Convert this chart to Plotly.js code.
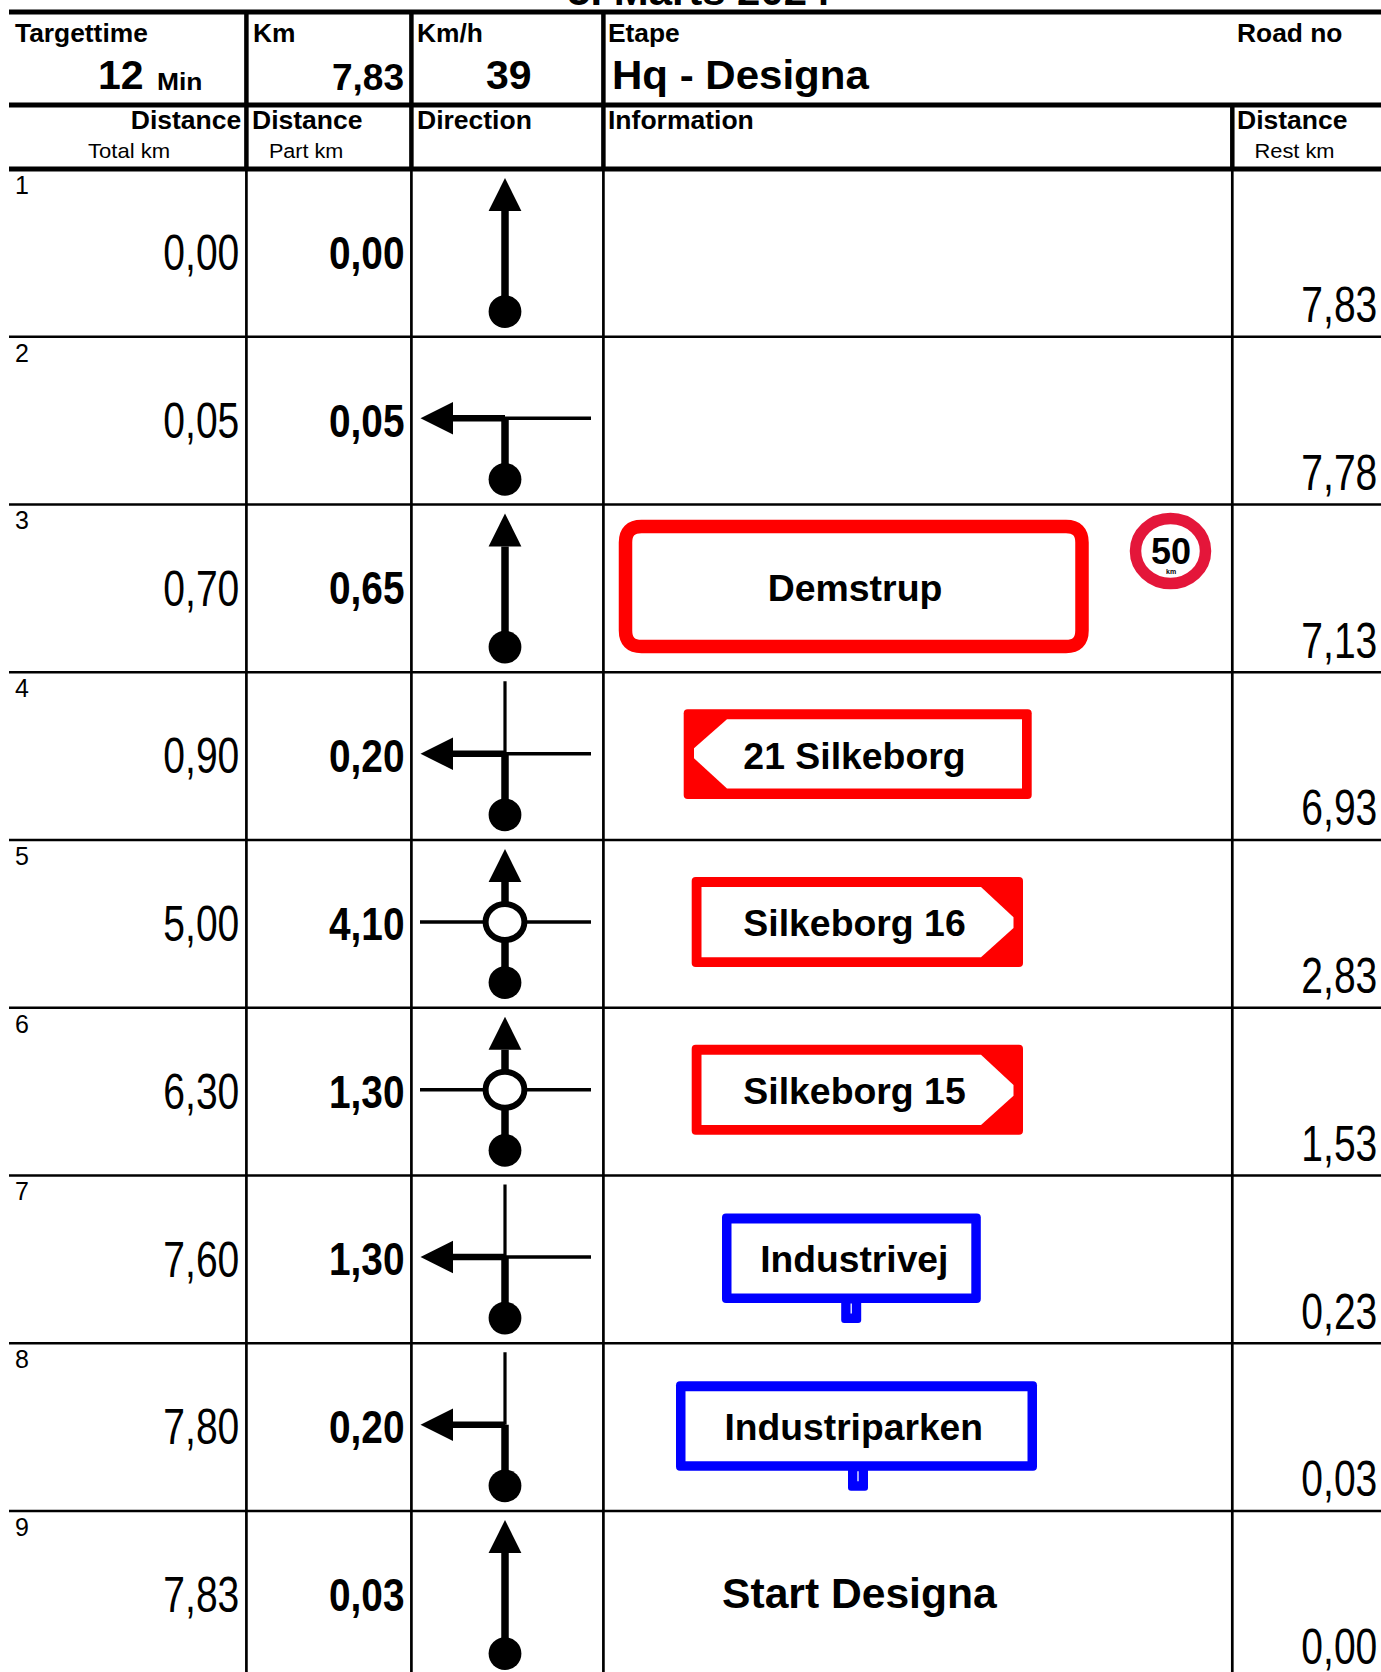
<!DOCTYPE html>
<html><head><meta charset="utf-8">
<script src="https://cdn.plot.ly/plotly-3.0.1.min.js"></script>
<style>html,body{margin:0;padding:0;background:#fff;overflow:hidden}</style>
</head><body><div id="chart" style="width:1381px;height:1672px"></div>
<script>
// ---- data ----
const rowNumbers = ['1','2','3','4','5','6','7','8','9'];
const totalKm = ['0,00','0,05','0,70','0,90','5,00','6,30','7,60','7,80','7,83'];
const partKm  = ['0,00','0,05','0,65','0,20','4,10','1,30','1,30','0,20','0,03'];
const restKm  = ['7,83','7,78','7,13','6,93','2,83','1,53','0,23','0,03','0,00'];
const directions = ['up','leftT','up','leftCross','round','round','leftCross','leftUp','up'];
const infoLabels = ['','','Demstrup','21 Silkeborg','Silkeborg 16','Silkeborg 15','Industrivej','Industriparken','Start Designa'];
const infoKinds  = ['none','none','town','left','right','right','blue','blue','plain'];
const headerTop = ['Targettime','Km','Km/h','Etape','Road no'];
const headerBottom = ['Distance','Distance','Direction','Information','Distance'];
const headerUnits = ['Total km','Part km','Rest km'];
const summary = {time:'12', unit:'Min', km:'7,83', speed:'39', stage:'Hq - Designa'};
const titleText = '5. Marts 2024';

// ---- geometry ----
const W=1381,H=1672, rowH=167.75, firstRow=169;
const rowTop=i=>firstRow+i*rowH;
const cx=505;
const shapes=[], ann=[], fit=[];
const SANS='"Liberation Sans", Arial, sans-serif';
function line(x0,y0,x1,y1,w,c){shapes.push({type:'line',xref:'x',yref:'y',x0,y0,x1,y1,line:{color:c||'#000',width:w}});}
function path(d,fill,lc,lw){shapes.push({type:'path',xref:'x',yref:'y',path:d,fillcolor:fill||'rgba(0,0,0,0)',line:{color:lc||'rgba(0,0,0,0)',width:lw||0}});}
function ell(x,y,rx,ry,fill,lc,lw){shapes.push({type:'circle',xref:'x',yref:'y',x0:x-rx,x1:x+rx,y0:y-ry,y1:y+ry,fillcolor:fill,line:{color:lc||fill,width:lw||0}});}
// base = text baseline; opt.stretch scales the glyph run horizontally, opt.len sets its exact length
function txt(t,x,base,size,opt){opt=opt||{};
  const a=opt.anchor||'left';
  if(opt.stretch||opt.len) fit.push({i:ann.length,stretch:opt.stretch,len:opt.len});
  const bottom=opt.fromBottom;
  ann.push({xref:'x',yref:'y',x,y:bottom?base+size*0.25:base-size*0.93,text:t,showarrow:false,xanchor:a,yanchor:bottom?'bottom':'top',align:a,borderpad:0,
    font:{family:SANS,size,color:opt.color||'#000',weight:opt.bold?700:400}});
}
function rr(x0,y0,x1,y1,r){return `M${x0+r},${y0} L${x1-r},${y0} Q${x1},${y0} ${x1},${y0+r} L${x1},${y1-r} Q${x1},${y1} ${x1-r},${y1} L${x0+r},${y1} Q${x0},${y1} ${x0},${y1-r} L${x0},${y0+r} Q${x0},${y0} ${x0+r},${y0} Z`;}

// grid
line(9,12,W,12,5); line(9,105,W,105,5); line(9,169,W,169,5);
for(let i=1;i<rowNumbers.length;i++) line(9,rowTop(i),W,rowTop(i),2.7);
[246.4,411.4,603.4].forEach(x=>{line(x,12,x,169,4.5); line(x,169,x,H,2.7);});
line(1232.3,105,1232.3,169,4.5); line(1232.3,169,1232.3,H,2.7);

// title (cropped by the page top)
txt(titleText,698.5,4.7,41,{bold:true,anchor:'center',len:263,fromBottom:true});

// header
const hx=[14,252,416,607,1236];
headerTop.forEach((t,i)=>txt(t,hx[i],41.7,25,{bold:true,stretch:1.055}));
txt(summary.time,97,89.5,41,{bold:true});
txt(summary.unit,156,89.5,24,{bold:true,stretch:1.1});
txt(summary.km,405,89.5,36,{bold:true,anchor:'right',stretch:1.03});
txt(summary.speed,509,89.5,41,{bold:true,anchor:'center'});
txt(summary.stage,610.5,89.5,41,{bold:true,stretch:1.025});
txt(headerBottom[0],241.5,128.3,25.5,{bold:true,anchor:'right',stretch:1.04});
[250.5,416,607,1236].forEach((x,i)=>txt(headerBottom[i+1],x,128.3,25.5,{bold:true,stretch:1.04}));
txt(headerUnits[0],128.5,158,21,{anchor:'center',stretch:1.05});
txt(headerUnits[1],306,158,21,{anchor:'center',stretch:1.03});
txt(headerUnits[2],1294.5,158,21,{anchor:'center',stretch:1.04});

// direction glyphs
function dot(t){ell(cx,t+142.6,16.4,16.4,'#000');}
function upArrow(t){path(`M${cx},${t+9} L${cx+16.4},${t+42} L${cx-16.4},${t+42} Z`,'#000');}
function leftArrow(t){const y=t+81.5;path(`M420.5,${y} L453,${y-16.3} L453,${y+16.3} Z`,'#000');line(453,y,cx,y,6.5);}
function stem(t,a,b,w){line(cx,t+a,cx,t+b,w);}
directions.forEach((d,i)=>{const t=rowTop(i);
  dot(t);
  if(d==='up'){upArrow(t);stem(t,42,142,7.5);}
  if(d==='leftT'){leftArrow(t);stem(t,81.5,142,7.5);line(cx,t+81.5,591,t+81.5,3.5);}
  if(d==='leftCross'){leftArrow(t);stem(t,81.5,142,7.5);stem(t,9,81.5,3.2);line(cx,t+81.5,591,t+81.5,3.5);}
  if(d==='leftUp'){leftArrow(t);stem(t,81.5,142,7.5);stem(t,9,81.5,3.2);}
  if(d==='round'){const y=t+82;line(420,y,591,y,3.5);upArrow(t);stem(t,42,142,7.5);ell(cx,y,19.4,18,'#fff','#000',6);}
});

// signs
const RED='#ff0000', BLUE='#0000ff';
function frame(x0,y0,x1,y1,inner,col){ path(rr(x0,y0,x1,y1,4),col); path(inner,'#fff'); }
infoLabels.forEach((label,i)=>{const t=rowTop(i),k=infoKinds[i];
  if(k==='town'){
    path(rr(625.5,t+22,1082,t+142,16),'#fff',RED,13.5);
    txt(label,854.7,t+95.5,36,{bold:true,anchor:'center',stretch:1.04});
  }
  if(k==='left'){
    frame(683.7,t+37,1031.7,t+126.7,`M1022,${t+47} L727,${t+47} L694,${t+76} L694,${t+86} L727,${t+116.3} L1022,${t+116.3} Z`,RED);
    txt(label,854,t+96.3,36.5,{bold:true,anchor:'center',stretch:1.025});
  }
  if(k==='right'){
    frame(691.7,t+37,1023,t+127,`M701.5,${t+47} L981,${t+47} L1013.5,${t+77.3} L1013.5,${t+88} L981,${t+117.3} L701.5,${t+117.3} Z`,RED);
    txt(label,854,t+96,36.5,{bold:true,anchor:'center',stretch:1.025});
  }
  if(k==='blue'){
    const b = label==='Industrivej' ? {x0:722,x1:980.8,tab:851.2} : {x0:676,x1:1037,tab:858};
    path(rr(b.tab-10,t+120,b.tab+10,t+147.5,3),BLUE);
    frame(b.x0,t+38,b.x1,t+127.4,`M${b.x0+9.5},${t+48} L${b.x1-9.5},${t+48} L${b.x1-9.5},${t+118} L${b.x0+9.5},${t+118} Z`,BLUE);
    line(b.tab,t+128,b.tab,t+138,1.3,'#fff');
    txt(label,854,t+96.5,36.5,{bold:true,anchor:'center',stretch:1.02});
  }
  if(k==='plain') txt(label,859.5,t+97.5,42,{bold:true,anchor:'center',stretch:1.015});
});
// speed limit
{const t=rowTop(2);
 ell(1170.5,t+46.5,35,32.6,'#fff','#e4163a',11.5);
 txt('50',1170.5,t+58.5,36,{bold:true,anchor:'center'});
 txt('km',1170.5,t+69.5,7,{bold:true,anchor:'center'});
}

// value columns
rowNumbers.forEach((n,i)=>{const t=rowTop(i);
  txt(n,13.5,t+24,25);
  txt(totalKm[i],239.5,t+101.5,50,{anchor:'right',len:76});
  txt(partKm[i],405,t+99.5,47,{bold:true,anchor:'right',len:75.5});
  txt(restKm[i],1377.5,t+153.5,50,{anchor:'right',len:76});
});

Plotly.newPlot('chart',[{x:[0],y:[0],mode:'markers',marker:{opacity:0},hoverinfo:'skip',showlegend:false}],{
  width:W,height:H,margin:{l:0,r:0,t:0,b:0},paper_bgcolor:'#fff',plot_bgcolor:'#fff',showlegend:false,
  xaxis:{range:[0,W],visible:false,fixedrange:true},
  yaxis:{range:[H,0],visible:false,fixedrange:true},
  shapes,annotations:ann
},{staticPlot:true,displayModeBar:false}).then(gd=>{
  const nodes=gd.querySelectorAll('.annotation');
  fit.forEach(f=>{
    const g=[...nodes].find(n=>n.getAttribute('data-index')==f.i); if(!g) return;
    const el=g.querySelector('text'); if(!el) return;
    const n=el.getComputedTextLength(), k=f.len?f.len/n:f.stretch, ax=parseFloat(el.getAttribute('x'))||0;
    el.setAttribute('transform',`translate(${ax},0) scale(${k},1) translate(${-ax},0)`);
  });
});
</script></body></html>
